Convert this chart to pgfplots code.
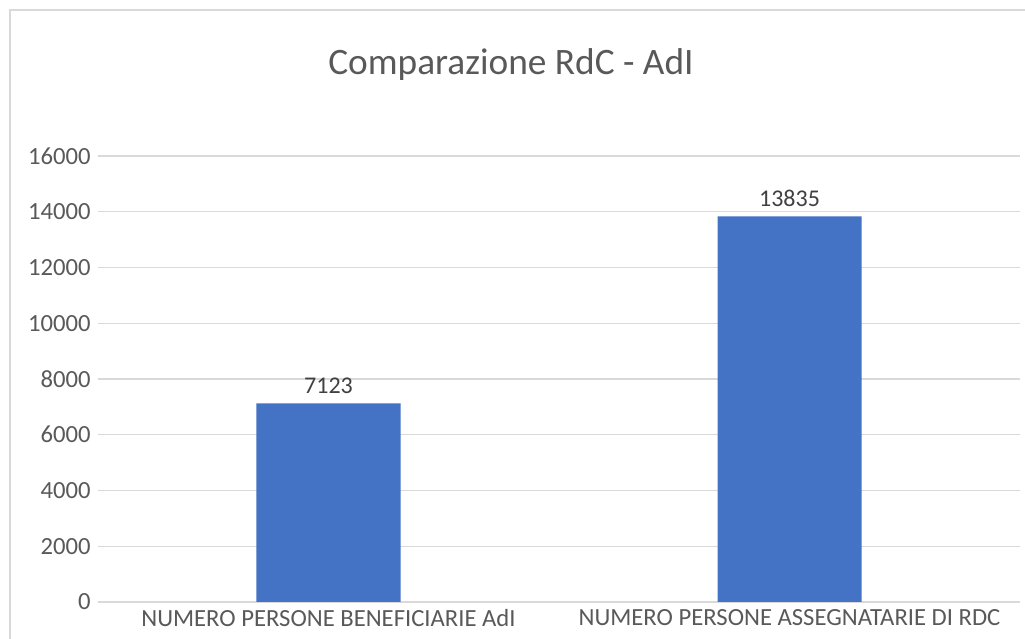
\documentclass[border=0pt]{standalone}
\usepackage{fontspec}
\setmainfont{Carlito}
\usepackage{pgfplots}
\pgfplotsset{compat=1.18}
\definecolor{barblue}{RGB}{68,114,196}
\definecolor{gridgray}{RGB}{217,217,217}
\definecolor{txtgray}{RGB}{89,89,89}
\definecolor{lblgray}{RGB}{64,64,64}
\begin{document}
\begin{tikzpicture}
% page frame: 1025x639 px at 0.75pt per px, axis box corner at (98px, 602px)
\path[use as bounding box] (-73.5pt,-27.75pt) rectangle (695.25pt,451.5pt);
\draw[gridgray, line width=1.5pt] (-66pt,-40pt) -- (-66pt,444pt) -- (710pt,444pt);
\begin{axis}[
  at={(0pt,0pt)}, anchor=south west,
  scale only axis,
  width=691.5pt, height=334.5pt,
  ybar, bar width=108pt,
  xmin=-0.5, xmax=1.5,
  ymin=0, ymax=16000,
  xtick={0,1},
  xticklabels={NUMERO PERSONE BENEFICIARIE AdI, NUMERO PERSONE ASSEGNATARIE DI RDC},
  ytick={0,2000,...,16000},
  axis line style={draw=none},
  major tick length=0pt,
  ymajorgrids,
  grid style={gridgray, line width=0.9pt},
  tick label style={font=\fontsize{18.5}{22}\selectfont, text=txtgray},
  xticklabel style={yshift=-2pt},
  yticklabel style={xshift=-2pt},
  /pgf/number format/assume math mode=true,
  scaled y ticks=false,
  y tick label style={/pgf/number format/.cd, 1000 sep={}},
  nodes near coords,
  every node near coord/.append style={font=\fontsize{18}{22}\selectfont, text=lblgray, yshift=4pt, /pgf/number format/1000 sep={}},
  title={Comparazione RdC - AdI},
  title style={font=\fontsize{28}{33}\selectfont, text=txtgray, at={(0.5,1)}, anchor=south, yshift=47pt, xshift=-36pt},
  clip=false,
]
\addplot[fill=barblue, draw=none] coordinates {(0,7123) (1,13835)};
\end{axis}
\end{tikzpicture}
\end{document}
